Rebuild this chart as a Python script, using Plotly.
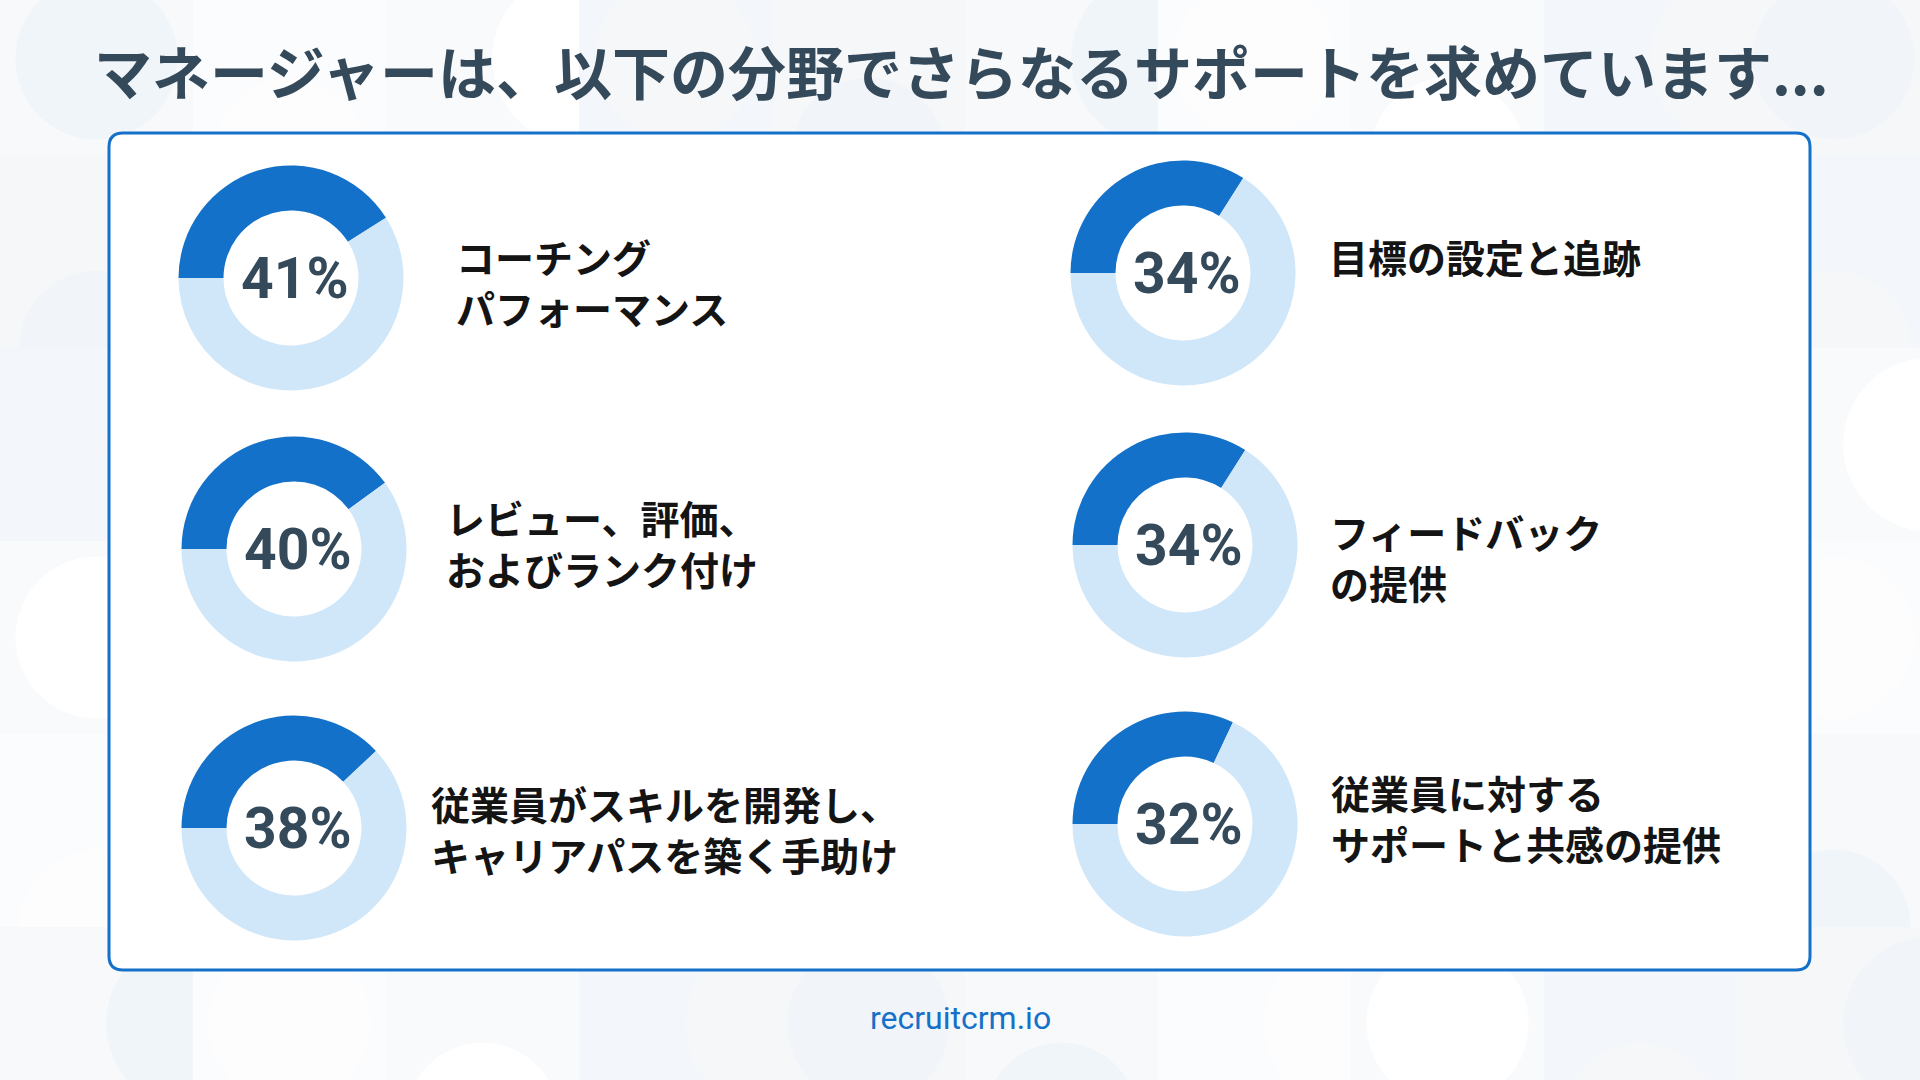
import plotly.graph_objects as go

W, H = 1920, 1080

# ---------------- data ----------------
title_text = "マネージャーは、以下の分野でさらなるサポートを求めています..."
categories = [
    "コーチング<br>パフォーマンス",
    "レビュー、評価、<br>およびランク付け",
    "従業員がスキルを開発し、<br>キャリアパスを築く手助け",
    "目標の設定と追跡",
    "フィードバック<br>の提供",
    "従業員に対する<br>サポートと共感の提供",
]
percent_values = [41, 40, 38, 34, 34, 32]
footer_text = "recruitcrm.io"

# ---------------- layout constants (pixels) ----------------
centers = [(291, 278), (294, 549), (294, 828), (1183, 273), (1185, 545), (1185, 824)]
label_pos = [(459, 261), (449, 522), (434, 808), (1332, 261), (1333, 536), (1334, 797)]
R = 112.5
HOLE = 0.60
LABEL_SIZE = 39
LINE_GAP = 1.3 * LABEL_SIZE

DARK = "#1471c9"
LIGHT = "#d0e6f9"
TEXT_DARK = "#34495a"
BLUE = "#1470c8"


def px(x):
    return x / W


def py(y):
    return 1 - y / H


fig = go.Figure()

for (cx, cy), v in zip(centers, percent_values):
    fig.add_trace(go.Pie(
        values=[v, 100 - v],
        labels=["yes", "no"],
        sort=False,
        direction="clockwise",
        rotation=270,
        hole=HOLE,
        marker=dict(colors=[DARK, LIGHT], line=dict(width=0)),
        textinfo="none",
        hoverinfo="skip",
        showlegend=False,
        domain=dict(x=[px(cx - R), px(cx + R)], y=[py(cy + R), py(cy - R)]),
    ))

shapes = []
# background tiles (decorative)
tile = 193
tile_cols = ["#f7f9fb", "#f3f6fa", "#fbfcfd", "#f6f7f9", "#f9fafc"]
circ_cols = ["#ffffff", "#f0f5fa", "#f5f7f9", "#fdfdfe", "#f1f5fa"]
r_idx = 0
y0 = -38
while y0 < H:
    c_idx = 0
    x0 = 0
    while x0 < W:
        k = (r_idx * 3 + c_idx * 2) % 5
        shapes.append(dict(type="rect", xref="paper", yref="paper",
                           x0=px(x0), x1=px(x0 + tile), y0=py(y0 + tile), y1=py(y0),
                           fillcolor=tile_cols[k], line=dict(width=0), layer="below"))
        m = (r_idx + c_idx) % 3
        if m == 0:
            cx0, cy0, rr = x0 + tile / 2, y0 + tile / 2, tile * 0.42
        elif m == 1:
            cx0, cy0, rr = x0 + tile / 2, y0 + tile, tile * 0.4
        else:
            cx0, cy0, rr = x0 + tile, y0 + tile / 2, tile * 0.45
        shapes.append(dict(type="circle", xref="paper", yref="paper",
                           x0=px(cx0 - rr), x1=px(cx0 + rr), y0=py(cy0 + rr), y1=py(cy0 - rr),
                           fillcolor=circ_cols[(k + 1) % 5], line=dict(width=0), layer="below"))
        x0 += tile
        c_idx += 1
    y0 += tile
    r_idx += 1

# card with rounded corners
L, T, Rr, B, rad = 109, 133, 1810, 970, 14
path = (
    f"M {px(L + rad)},{py(T)} L {px(Rr - rad)},{py(T)} Q {px(Rr)},{py(T)} {px(Rr)},{py(T + rad)} "
    f"L {px(Rr)},{py(B - rad)} Q {px(Rr)},{py(B)} {px(Rr - rad)},{py(B)} "
    f"L {px(L + rad)},{py(B)} Q {px(L)},{py(B)} {px(L)},{py(B - rad)} "
    f"L {px(L)},{py(T + rad)} Q {px(L)},{py(T)} {px(L + rad)},{py(T)} Z"
)
shapes.append(dict(type="path", xref="paper", yref="paper", path=path,
                   fillcolor="#ffffff", line=dict(color=BLUE, width=3), layer="below"))

annotations = []
annotations.append(dict(
    text=title_text, x=px(961), y=py(70), xref="paper", yref="paper",
    xanchor="center", yanchor="middle", showarrow=False,
    font=dict(family="Noto Sans CJK JP", size=58, color=TEXT_DARK, weight=700),
))

for (cx, cy), v in zip(centers, percent_values):
    annotations.append(dict(
        text=f"{v}%", x=px(cx + 4), y=py(cy), xref="paper", yref="paper",
        xanchor="center", yanchor="middle", showarrow=False,
        font=dict(family="Roboto", size=57, color=TEXT_DARK, weight=700),
    ))

for (lx, ly), lab in zip(label_pos, categories):
    n = len(lab.split("<br>"))
    annotations.append(dict(
        text=lab, x=px(lx - 5), y=py(ly - 5 + (n - 1) * LINE_GAP / 2), xref="paper", yref="paper",
        xanchor="left", yanchor="middle", align="left", showarrow=False,
        font=dict(family="Noto Sans CJK JP", size=LABEL_SIZE, color="#141414", weight=700),
    ))

annotations.append(dict(
    text=footer_text, x=px(960), y=py(1018), xref="paper", yref="paper",
    xanchor="center", yanchor="middle", showarrow=False,
    font=dict(family="Roboto", size=32, color=BLUE),
))

fig.update_layout(
    width=W, height=H,
    margin=dict(l=0, r=0, t=0, b=0),
    paper_bgcolor="#fafbfd",
    plot_bgcolor="rgba(0,0,0,0)",
    shapes=shapes,
    annotations=annotations,
    showlegend=False,
)

fig.write_html("out.html", config={"displayModeBar": False})
